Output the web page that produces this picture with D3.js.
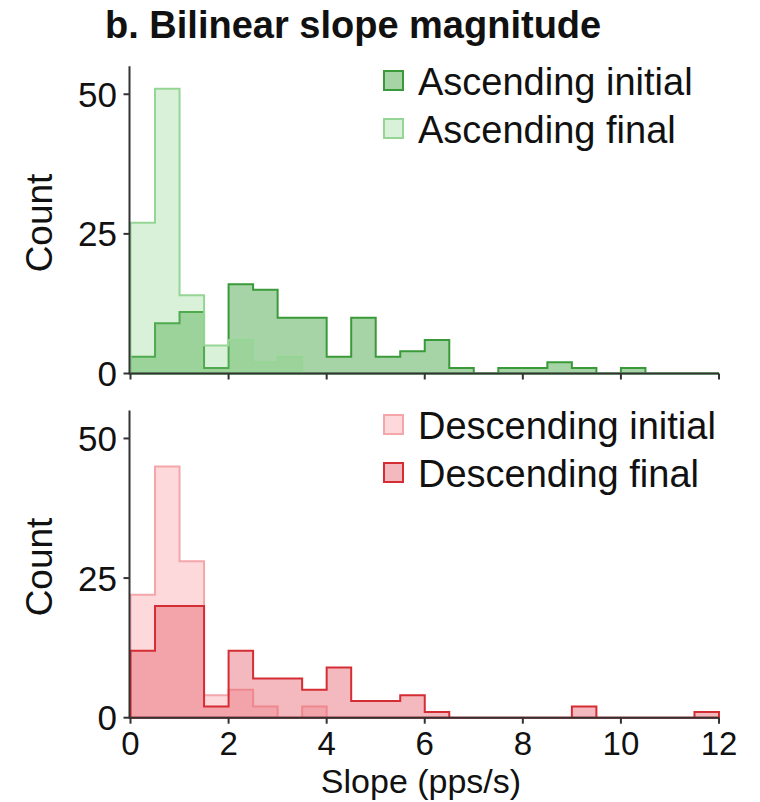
<!DOCTYPE html>
<html>
<head>
<meta charset="utf-8">
<script src="https://cdn.jsdelivr.net/npm/d3@7"></script>
<style>
  body { margin: 0; background: #fff; }
  svg text { font-family: "Liberation Sans", Arial, sans-serif; fill: #111; }
</style>
</head>
<body>
<svg id="chart" width="760" height="802"></svg>
<script>
// histogram bins, width 0.5 pps/s, from 0 to 12
const binWidth = 0.5
const xTicks = [0, 2, 4, 6, 8, 10, 12]
const yTicks = [0, 25, 50]

const ascInitial = [3, 9, 11, 1, 16, 15, 10, 10, 3, 10, 3, 4, 6, 1, 0, 1, 1, 2, 1, 0, 1, 0, 0, 0]
const ascFinal   = [27, 51, 14, 5, 6, 2, 3, 0, 0, 0, 0, 0, 0, 0, 0, 0, 0, 0, 0, 0, 0, 0, 0, 0]
const descInitial = [22, 45, 28, 4, 5, 2, 0, 2, 0, 0, 0, 0, 0, 0, 0, 0, 0, 0, 0, 0, 0, 0, 0, 0]
const descFinal   = [12, 20, 20, 2, 12, 7, 7, 5, 9, 3, 3, 4, 1, 0, 0, 0, 0, 0, 2, 0, 0, 0, 0, 1]

const svg = d3.select("#chart")

const x = d3.scaleLinear().domain([0, 12]).range([130.5, 719])

svg.append("text")
    .attr("x", 105).attr("y", 38)
    .attr("font-size", 38).attr("font-weight", "bold")
    .text("b. Bilinear slope magnitude")

function drawPanel(panel){
    const y = d3.scaleLinear().domain([0, 55]).range([panel.bottom, panel.bottom - 55 * 5.585])
    const g = svg.append("g")

    const area = d3.area()
        .curve(d3.curveStepAfter)
        .x(d => x(d[0]))
        .y0(y(0))
        .y1(d => y(d[1]))

    for(const s of panel.series){
        const pts = s.values.map((v, i) => [i * binWidth, v])
        pts.push([12, s.values[s.values.length - 1]])
        g.append("path")
            .attr("d", area(pts) )
            .attr("fill", s.fill)
            .attr("stroke", s.stroke)
            .attr("stroke-width", 2)
    }

    // y axis
    g.append("line")
        .attr("x1", x(0) - 1).attr("x2", x(0) - 1)
        .attr("y1", y(0)).attr("y2", y(55))
        .attr("stroke", "#333").attr("stroke-width", 2)
    for(const t of yTicks){
        g.append("line")
            .attr("x1", x(0) - 7).attr("x2", x(0) - 1)
            .attr("y1", y(t)).attr("y2", y(t))
            .attr("stroke", "#333").attr("stroke-width", 2)
        g.append("text")
            .attr("x", 117).attr("y", y(t))
            .attr("dy", "0.36em")
            .attr("text-anchor", "end")
            .attr("font-size", 35)
            .text(t)
    }

    // x axis
    g.append("line")
        .attr("x1", x(0) - 2).attr("x2", x(12))
        .attr("y1", y(0)).attr("y2", y(0))
        .attr("stroke", "#333").attr("stroke-width", 2)
    for(const t of xTicks){
        g.append("line")
            .attr("x1", x(t)).attr("x2", x(t))
            .attr("y1", y(0)).attr("y2", y(0) + 6)
            .attr("stroke", "#333").attr("stroke-width", 2)
        if(panel.labels){
            g.append("text")
                .attr("x", x(t)).attr("y", y(0) + 37)
                .attr("text-anchor", "middle")
                .attr("font-size", 33)
                .text(t)
        }
    }

    g.append("text")
        .attr("transform", `translate(52, ${panel.countY}) rotate(-90)`)
        .attr("text-anchor", "middle")
        .attr("font-size", 37)
        .text("Count")

    // legend
    panel.series.forEach((s, i) => {
        const ly = panel.legendY + i * 48
        g.append("rect")
            .attr("x", 384).attr("y", ly - 10)
            .attr("width", 19).attr("height", 19)
            .attr("fill", s.fill)
            .attr("stroke", s.stroke)
            .attr("stroke-width", 2)
        g.append("text")
            .attr("x", 418).attr("y", ly)
            .attr("dy", "0.36em")
            .attr("font-size", 38)
            .text(s.name)
    })
}

drawPanel({
    bottom: 373.5, labels: false, countY: 223, legendY: 81,
    series: [
        {name: "Ascending initial", values: ascInitial, fill: "rgba(80,170,80,0.5)", stroke: "#3a9a3a"},
        {name: "Ascending final", values: ascFinal, fill: "rgba(130,210,130,0.3)", stroke: "#95d595"}
    ]
})

drawPanel({
    bottom: 717.7, labels: true, countY: 567, legendY: 425,
    series: [
        {name: "Descending initial", values: descInitial, fill: "rgba(250,170,175,0.45)", stroke: "#f4a6aa"},
        {name: "Descending final", values: descFinal, fill: "rgba(230,100,110,0.45)", stroke: "#d42d33"}
    ]
})

svg.append("text")
    .attr("x", 421).attr("y", 793)
    .attr("text-anchor", "middle")
    .attr("font-size", 34)
    .text("Slope (pps/s)")
</script>
</body>
</html>
